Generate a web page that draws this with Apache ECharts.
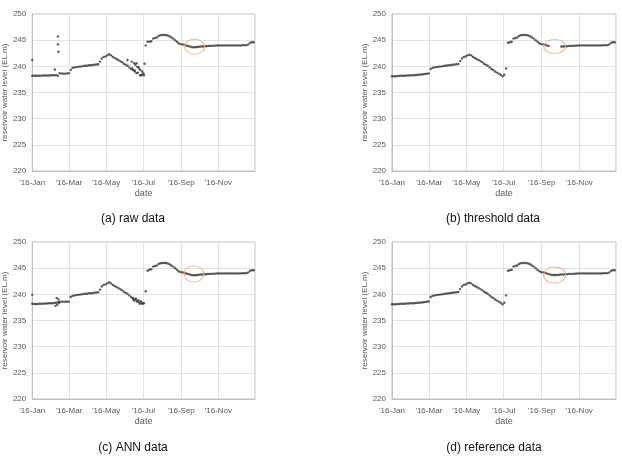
<!DOCTYPE html>
<html>
<head>
<meta charset="utf-8">
<script src="https://cdn.jsdelivr.net/npm/echarts@6/dist/echarts.min.js"></script>
<style>
html,body{margin:0;padding:0;background:#fff;}
#chart{width:622px;height:462px;}
</style>
</head>
<body>
<div id="chart"></div>
<script>
// ---- data (2016, one sample every 3 days) ----
const dates = [
 '01-01','01-04','01-07','01-10','01-13','01-16','01-19','01-22','01-25','01-28','01-31',
 '02-03','02-06','02-09','02-12','02-15','02-18','02-21','02-24','02-27',
 '03-01','03-04','03-07','03-10','03-13','03-16','03-19','03-22','03-25','03-28','03-31',
 '04-03','04-06','04-09','04-12','04-15','04-18','04-21','04-24','04-27','04-30',
 '05-03','05-06','05-09','05-12','05-15','05-18','05-21','05-24','05-27','05-30',
 '06-02','06-05','06-08','06-11','06-14','06-17','06-20','06-23','06-26','06-29',
 '07-02','07-05','07-08','07-11','07-14','07-17','07-20','07-23','07-26','07-29',
 '08-01','08-04','08-07','08-10','08-13','08-16','08-19','08-22','08-25','08-28','08-31',
 '09-03','09-06','09-09','09-12','09-15','09-18','09-21','09-24','09-27','09-30',
 '10-03','10-06','10-09','10-12','10-15','10-18','10-21','10-24','10-27','10-30',
 '11-02','11-05','11-08','11-11','11-14','11-17','11-20','11-23','11-26','11-29',
 '12-02','12-05','12-08','12-11','12-14','12-17','12-20','12-23','12-26','12-29'
];

const rawLevel = [
 238.2,238.2,238.2,238.2,238.2,238.2,238.25,238.25,238.25,238.25,238.3,
 238.3,238.3,238.3,238.2,238.7,238.65,238.6,238.6,238.65,
 238.7,239.3,239.7,239.8,239.85,239.9,239.95,240.0,240.05,240.1,240.1,
 240.2,240.2,240.25,240.3,240.35,240.4,240.9,241.5,241.8,241.9,
 242.1,242.3,242.1,241.8,241.6,241.4,241.2,241.0,240.8,240.5,
 240.3,240.1,239.8,239.5,239.3,239.0,238.7,239.9,238.3,238.4,
 238.3,244.0,244.7,244.7,244.8,245.3,245.4,245.5,245.8,245.95,
 246.0,246.0,246.0,245.9,245.75,245.5,245.3,245.0,244.7,244.4,244.25,
 244.2,244.15,244.0,243.9,243.8,243.7,243.65,243.65,243.7,243.75,
 243.8,243.8,243.85,243.85,243.9,243.9,243.9,243.95,243.95,244.0,
 244.0,244.0,244.0,244.0,244.0,244.0,244.0,244.0,244.0,244.0,
 244.0,244.0,244.0,244.05,244.05,244.05,244.2,244.5,244.6,244.6
];
const rawExtraDates = ['01-01','02-07','02-12','02-12','02-13','06-05','06-12','06-13','06-16','06-17','06-18','06-20','06-21','06-22','06-24','06-26','06-27','06-29','07-01','07-03'];
const rawExtraLevels = [241.2,239.4,245.7,244.2,242.8,241.2,240.9,239.6,240.6,239.2,240.3,240.6,239.9,238.8,239.6,239.3,238.3,239.0,238.7,240.5];

const thresholdLevel = [
 238.1,238.1,238.1,238.15,238.15,238.2,238.2,238.2,238.25,238.25,238.3,
 238.3,238.3,238.35,238.4,238.4,238.45,238.5,238.55,238.6,
 238.65,239.5,239.7,239.8,239.85,239.9,239.95,240.0,240.05,240.1,240.15,
 240.2,240.25,240.3,240.35,240.4,240.45,241.0,241.5,241.8,241.9,
 242.1,242.2,242.1,241.8,241.6,241.4,241.2,241.0,240.8,240.5,
 240.3,240.1,239.8,239.5,239.3,239.0,238.8,238.6,238.4,238.1,
 238.4,239.6,244.5,244.6,244.7,245.3,245.4,245.5,245.8,245.95,
 246.0,246.0,246.0,245.9,245.75,245.5,245.3,245.0,244.7,244.4,244.25,
 244.2,244.15,244.0,243.9,null,null,null,null,null,null,
 243.8,243.8,243.85,243.85,243.9,243.9,243.9,243.95,243.95,244.0,
 244.0,244.0,244.0,244.0,244.0,244.0,244.0,244.0,244.0,244.0,
 244.0,244.0,244.0,244.05,244.05,244.05,244.2,244.5,244.6,244.6
];

const annLevel = [
 238.2,238.15,238.15,238.15,238.2,238.2,238.2,238.25,238.25,238.3,238.3,
 238.3,238.35,238.4,238.5,238.55,238.6,238.6,238.6,238.6,
 238.6,239.5,239.7,239.8,239.85,239.9,239.95,240.0,240.05,240.1,240.1,
 240.2,240.2,240.25,240.3,240.35,240.4,240.9,241.5,241.8,241.9,
 242.1,242.3,242.1,241.8,241.6,241.4,241.2,241.0,240.8,240.5,
 240.3,240.1,239.8,239.5,239.3,239.0,238.8,238.6,238.4,238.2,
 238.3,240.6,244.5,244.7,244.8,245.3,245.4,245.5,245.8,245.95,
 246.0,246.0,246.0,245.9,245.75,245.5,245.3,245.0,244.7,244.4,244.25,
 244.2,244.15,244.0,243.9,243.8,243.7,243.65,243.65,243.7,243.75,
 243.8,243.8,243.85,243.85,243.9,243.9,243.9,243.95,243.95,244.0,
 244.0,244.0,244.0,244.0,244.0,244.0,244.0,244.0,244.0,244.0,
 244.0,244.0,244.0,244.05,244.05,244.05,244.2,244.5,244.6,244.6
];
const annExtraDates = ['01-01','02-08','02-10','02-11','02-13','02-14','06-14','06-16','06-19','06-21','06-23','06-25','06-27','06-30'];
const annExtraLevels = [239.9,237.8,239.3,238.0,239.0,238.4,239.1,238.8,239.2,238.6,238.9,238.2,238.7,238.3];

const refLevel = [
 238.1,238.1,238.1,238.15,238.15,238.2,238.2,238.2,238.25,238.25,238.3,
 238.3,238.3,238.35,238.4,238.4,238.45,238.5,238.55,238.6,
 238.65,239.5,239.7,239.8,239.85,239.9,239.95,240.0,240.05,240.1,240.15,
 240.2,240.25,240.3,240.35,240.4,240.45,241.0,241.5,241.8,241.9,
 242.1,242.2,242.1,241.8,241.6,241.4,241.2,241.0,240.8,240.5,
 240.3,240.1,239.8,239.5,239.3,239.0,238.8,238.6,238.4,238.1,
 238.4,239.8,244.5,244.6,244.7,245.3,245.4,245.5,245.8,245.95,
 246.0,246.0,246.0,245.9,245.75,245.5,245.3,245.0,244.7,244.4,244.25,
 244.2,244.15,244.0,243.9,243.8,243.7,243.7,243.7,243.7,243.75,
 243.8,243.8,243.85,243.85,243.9,243.9,243.9,243.95,243.95,244.0,
 244.0,244.0,244.0,244.0,244.0,244.0,244.0,244.0,244.0,244.0,
 244.0,244.0,244.0,244.05,244.05,244.05,244.2,244.5,244.6,244.6
];

const tickLabels = ["'16-Jan","'16-Feb","'16-Mar","'16-Apr","'16-May","'16-Jun","'16-Jul","'16-Aug","'16-Sep","'16-Oct","'16-Nov","'16-Dec"];
const captions = ['(a) raw data','(b) threshold data','(c) ANN data','(d) reference data'];
const circleDates = ['09-23','09-22','09-22','09-22'];
const circleLevels = [243.75,243.8,243.9,243.7];

// ---- build ----
function pairs(ds, vs){
  const out=[];
  for(let i=0;i<ds.length;i++){ if(vs[i]!=null) out.push(['2016-'+ds[i], vs[i]]); }
  return out;
}
const panelData = [
  pairs(dates, rawLevel).concat(pairs(rawExtraDates, rawExtraLevels)),
  pairs(dates, thresholdLevel),
  pairs(dates, annLevel).concat(pairs(annExtraDates, annExtraLevels)),
  pairs(dates, refLevel)
];
const grids = [
  {left:31, top:14, width:224, height:157},
  {left:392, top:14, width:224, height:157},
  {left:31, top:242, width:224, height:157},
  {left:392, top:242, width:224, height:157}
];
const captionPos = [[133,219],[493,219],[133,448],[494,448]];
const circleSize = [[20,15],[22,14],[20,16],[22,16]];
const FONT = 'Liberation Sans';
const DAY = 86400000;

const option = {
  animation:false,
  backgroundColor:'#fff',
  grid: grids.map(g=>Object.assign({show:true, borderColor:'#bfbfbf', borderWidth:1, backgroundColor:'transparent'}, g)),
  xAxis: grids.map((g,i)=>({
    type:'time', gridIndex:i, min:'2016-01-01', max:'2016-12-31',
    splitNumber:6, minInterval:59*DAY, maxInterval:62*DAY,
    name:'date', nameLocation:'middle', nameGap:18,
    nameTextStyle:{fontFamily:FONT, fontSize:9, color:'#595959'},
    axisLine:{show:true, lineStyle:{color:'#bfbfbf'}},
    axisTick:{show:false},
    splitLine:{show:true, lineStyle:{color:'#e3e3e3', width:1}},
    axisLabel:{fontFamily:FONT, fontSize:8, color:'#595959', margin:8, hideOverlap:false,
      formatter:function(v){ return tickLabels[new Date(v).getMonth()]; }}
  })),
  yAxis: grids.map((g,i)=>({
    type:'value', gridIndex:i, min:220, max:250, interval:5,
    name:'reservoir water level (EL.m)', nameLocation:'middle', nameGap:20, nameRotate:90,
    nameTextStyle:{fontFamily:FONT, fontSize:8, color:'#595959'},
    axisLine:{show:true, lineStyle:{color:'#bfbfbf'}},
    axisTick:{show:false},
    splitLine:{show:true, lineStyle:{color:'#e3e3e3', width:1}},
    axisLabel:{fontFamily:FONT, fontSize:8, color:'#595959', margin:6}
  })),
  series: [].concat(
    panelData.map((d,i)=>({
      type:'scatter', xAxisIndex:i, yAxisIndex:i, data:d,
      symbol:'circle', symbolSize:2.4,
      itemStyle:{color:'#333333'}, silent:true
    })),
    circleDates.map((d,i)=>({
      type:'scatter', xAxisIndex:i, yAxisIndex:i,
      data:[['2016-'+d, circleLevels[i]]],
      symbol:'circle', symbolSize:circleSize[i],
      itemStyle:{color:'rgba(0,0,0,0)', borderColor:'#f2a27a', borderWidth:1}, silent:true, z:5
    }))
  ),
  graphic: captions.map((c,i)=>({
    type:'text', x:captionPos[i][0], y:captionPos[i][1],
    style:{text:c, fontFamily:FONT, fontSize:12, fill:'#111', align:'center', verticalAlign:'middle'}
  }))
};
const chart = echarts.init(document.getElementById('chart'), null, {renderer:'canvas'});
chart.setOption(option);
</script>
</body>
</html>
